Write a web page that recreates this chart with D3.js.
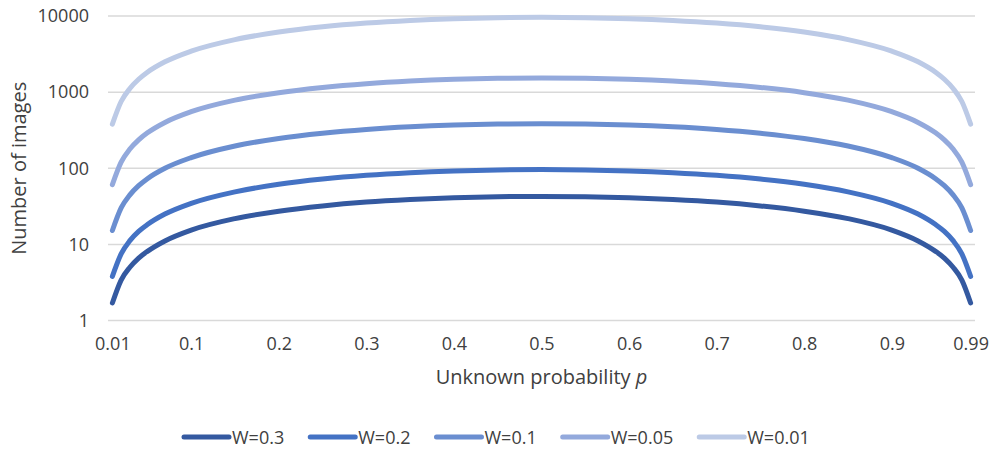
<!DOCTYPE html>
<html>
<head>
<meta charset="utf-8">
<script src="https://cdn.jsdelivr.net/npm/d3@7"></script>
<style>
  body { margin: 0; background: #fff; }
  svg text { font-family: "Open Sans", "Liberation Sans", sans-serif; fill: #404040; }
</style>
</head>
<body>
<script>
// probabilities read along the x axis
var probs = [0.01,0.02,0.03,0.04,0.05,0.07,0.1,0.15,0.2,0.25,0.3,0.35,0.4,0.45,0.5,0.55,0.6,0.65,0.7,0.75,0.8,0.85,0.9,0.93,0.95,0.96,0.97,0.98,0.99];

// number of images
var w03  = [1.7,3.4,5.0,6.6,8.1,11.1,15.4,21.8,27.3,32,35.9,38.8,41,42.3,42.7,42.3,41,38.8,35.9,32,27.3,21.8,15.4,11.1,8.1,6.6,5.0,3.4,1.7];
var w02  = [3.8,7.5,11.2,14.8,18.2,25,34.6,49,61.5,72,80.7,87.4,92.2,95.1,96,95.1,92.2,87.4,80.7,72,61.5,49,34.6,25,18.2,14.8,11.2,7.5,3.8];
var w01  = [15.2,30.1,44.7,59,73,100,138,196,246,288,323,350,369,380,384,380,369,350,323,288,246,196,138,100,73,59,44.7,30.1,15.2];
var w005 = [61,120,179,236,292,400,553,784,983,1152,1291,1398,1475,1521,1537,1521,1475,1398,1291,1152,983,784,553,400,292,236,179,120,61];
var w001 = [380,753,1118,1475,1825,2500,3457,4898,6147,7203,8067,8740,9220,9508,9604,9508,9220,8740,8067,7203,6147,4898,3457,2500,1825,1475,1118,753,380];

var seriesNames = ["W=0.3","W=0.2","W=0.1","W=0.05","W=0.01"];
var seriesData = [w03, w02, w01, w005, w001];
var colors = ["#3459a0","#4472c4","#6a8ed0","#93a9dc","#bccae6"];

var xTicks = [0.01,0.1,0.2,0.3,0.4,0.5,0.6,0.7,0.8,0.9,0.99];
var yTicks = [1,10,100,1000,10000];

var width = 990, height = 449;
var plotLeft = 108, plotRight = 975, plotTop = 16, plotBottom = 320.5;

var svg = d3.select("body").append("svg").attr("width", width).attr("height", height);

// category axis: 99 slots, points in the middle of each
var slot = (plotRight - plotLeft) / 99;
var x = d3.scaleLinear().domain([0.01, 0.99]).range([plotLeft + slot/2, plotRight - slot/2]);
var y = d3.scaleLog().domain([1, 10000]).range([plotBottom, plotTop]);

// gridlines
svg.append("g").selectAll("line").data(yTicks).join("line")
  .attr("x1", plotLeft).attr("x2", plotRight)
  .attr("y1", function(d){ return y(d); }).attr("y2", function(d){ return y(d); })
  .attr("stroke", "#d9d9d9").attr("stroke-width", 1.5);

// y labels
var yAxis = d3.axisLeft(y).tickValues(yTicks).tickFormat(d3.format("d")).tickSize(0).tickPadding(19);
var yg = svg.append("g").attr("transform", "translate(" + plotLeft + ",0)").call(yAxis);
yg.select(".domain").remove();
yg.selectAll("text").style("font-size", "18px").attr("fill", "#404040");

// x labels
var xAxis = d3.axisBottom(x).tickValues(xTicks).tickFormat(function(d){ return String(d); }).tickSize(0).tickPadding(17);
var xg = svg.append("g").attr("transform", "translate(0," + plotBottom + ")").call(xAxis);
xg.select(".domain").remove();
xg.selectAll("text").style("font-size", "18px").attr("fill", "#404040");

// lines
var line = d3.line()
  .x(function(d){ return x(d[0]); })
  .y(function(d){ return y(d[1]); })
  .curve(d3.curveMonotoneX);

seriesData.forEach(function(vals, i){
  var pts = probs.map(function(p, j){ return [p, vals[j]]; });
  svg.append("path").datum(pts)
    .attr("d", line)
    .attr("fill", "none")
    .attr("stroke", colors[i])
    .attr("stroke-width", 5)
    .attr("stroke-linecap", "round")
    .attr("stroke-linejoin", "round");
});

// axis titles
svg.append("text")
  .attr("transform", "translate(26," + ((plotTop + plotBottom)/2) + ") rotate(-90)")
  .attr("text-anchor", "middle")
  .style("font-size", "20px")
  .text("Number of images");

var xt = svg.append("text")
  .attr("x", (plotLeft + plotRight)/2).attr("y", 384)
  .attr("text-anchor", "middle")
  .style("font-size", "20px");
xt.append("tspan").text("Unknown probability ");
xt.append("tspan").attr("font-style", "italic").text("p");

// legend
var legend = svg.append("g").attr("transform", "translate(184,0)");
var lx = 0;
seriesNames.forEach(function(name, i){
  var g = legend.append("g").attr("transform", "translate(" + lx + ",0)");
  g.append("line").attr("x1", 0).attr("x2", 45).attr("y1", 437).attr("y2", 437)
    .attr("stroke", colors[i]).attr("stroke-width", 5).attr("stroke-linecap", "round");
  var t = g.append("text").attr("x", 48).attr("y", 443.5).style("font-size", "18px").text(name);
  lx += 48 + t.node().getComputedTextLength() + 26;
});
</script>
</body>
</html>
